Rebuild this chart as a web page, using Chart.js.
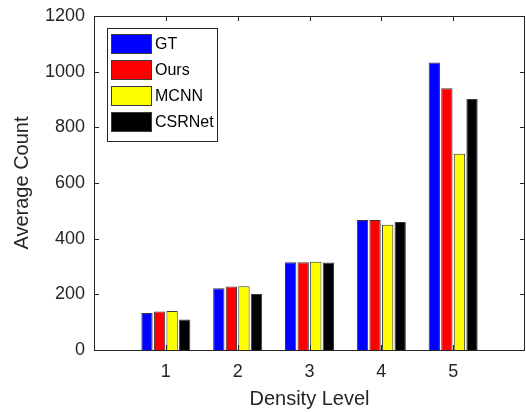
<!DOCTYPE html>
<html>
<head>
<meta charset="utf-8">
<script src="https://cdn.jsdelivr.net/npm/chart.js@4/dist/chart.umd.min.js"></script>
<style>
  html, body { margin: 0; padding: 0; background: #fff; }
  #wrap { width: 526px; height: 412px; position: relative; }
</style>
</head>
<body>
<div id="wrap"><canvas id="chart" width="526" height="412"></canvas></div>
<script>
// === DATA ===
const categories = ['1', '2', '3', '4', '5'];
const seriesNames = ['GT', 'Ours', 'MCNN', 'CSRNet'];
const gtValues = [133, 222, 315, 467, 1033];
const oursValues = [138, 228, 315, 467, 940];
const mcnnValues = [140, 229, 317, 450, 705];
const csrnetValues = [110, 201, 314, 460, 902];
const yTicks = [0, 200, 400, 600, 800, 1000, 1200];

const seriesColors = ['#0000ff', '#ff0000', '#ffff00', '#000000'];
const axisColor = '#262626';
const fontFamily = 'Arial, "Liberation Sans", Helvetica, sans-serif';

// x range runs 0..6, so pad the categories with empty slots at both ends
const labels = [''].concat(categories, ['']);
function pad(arr) { return [null].concat(arr, [null]); }

const allValues = [gtValues, oursValues, mcnnValues, csrnetValues];
const datasets = allValues.map((vals, i) => ({
    label: seriesNames[i],
    data: pad(vals),
    backgroundColor: seriesColors[i],
    borderColor: '#3a3a3a',
    borderWidth: 1,
    categoryPercentage: 0.70,
    barPercentage: 0.9
}));

// === FRAME, INWARD TICKS, LEGEND ===
const matlabAxes = {
    id: 'matlabAxes',
    afterDraw(chart) {
        const c = chart.ctx;
        const a = chart.chartArea;
        const xs = chart.scales.x, ys = chart.scales.y;
        const tl = 5;
        c.save();
        c.strokeStyle = axisColor;
        c.lineWidth = 1;
        c.beginPath();
        c.rect(Math.round(a.left) + 0.5, Math.round(a.top) + 0.5,
               Math.round(a.right - a.left) - 1, Math.round(a.bottom - a.top));
        // y ticks on left and right
        yTicks.forEach(v => {
            const py = Math.round(ys.getPixelForValue(v)) + 0.5;
            c.moveTo(a.left, py); c.lineTo(a.left + tl, py);
            c.moveTo(a.right, py); c.lineTo(a.right - tl, py);
        });
        // x ticks on bottom and top
        categories.forEach((cat, i) => {
            const px = Math.round(xs.getPixelForValue(i + 1)) + 0.5;
            c.moveTo(px, a.bottom); c.lineTo(px, a.bottom - tl);
            c.moveTo(px, a.top); c.lineTo(px, a.top + tl);
        });
        c.stroke();

        // legend box
        const lx = 107, ly = 28, lw = 110, lh = 113;
        c.fillStyle = '#fff';
        c.fillRect(lx, ly, lw, lh);
        c.strokeRect(lx + 0.5, ly + 0.5, lw, lh);
        c.font = '16px ' + fontFamily;
        c.textBaseline = 'middle';
        seriesNames.forEach((name, i) => {
            const cy = 44 + i * 26;
            c.fillStyle = seriesColors[i];
            c.fillRect(111, cy - 10, 41, 20);
            c.strokeStyle = '#3a3a3a';
            c.strokeRect(111.5, cy - 9.5, 40, 19);
            c.fillStyle = '#000';
            c.fillText(name, 155, cy + 1);
        });
        c.restore();
    }
};

// === CHART ===
const ctx = document.getElementById('chart');
new Chart(ctx, {
    type: 'bar',
    data: { labels: labels, datasets: datasets },
    options: {
        responsive: false,
        animation: false,
        layout: { padding: { top: 16, right: 1, left: 0, bottom: 0 } },
        plugins: {
            legend: { display: false },
            tooltip: { enabled: false }
        },
        scales: {
            x: {
                offset: false,
                grid: { display: false, drawTicks: false },
                border: { display: false },
                ticks: {
                    color: axisColor,
                    font: { family: fontFamily, size: 18 },
                    padding: 11,
                    maxRotation: 0,
                    autoSkip: false
                },
                title: {
                    display: true,
                    text: 'Density Level',
                    color: axisColor,
                    font: { family: fontFamily, size: 20 },
                    padding: { top: 0, bottom: 1 }
                },
                afterFit: s => {
                    s.height = 62;
                    s.paddingLeft = 0;
                    s.paddingRight = 0;
                }
            },
            y: {
                min: 0,
                max: 1200,
                grid: { display: false, drawTicks: false },
                border: { display: false },
                ticks: {
                    stepSize: 200,
                    color: axisColor,
                    font: { family: fontFamily, size: 18 },
                    padding: 9,
                    callback: v => String(v)
                },
                title: {
                    display: true,
                    text: 'Average Count',
                    color: axisColor,
                    font: { family: fontFamily, size: 20 },
                    padding: { top: 10, bottom: 0 }
                },
                afterFit: s => {
                    s.width = 94;
                    s.paddingTop = 0;
                    s.paddingBottom = 0;
                }
            }
        }
    },
    plugins: [matlabAxes]
});
</script>
</body>
</html>
